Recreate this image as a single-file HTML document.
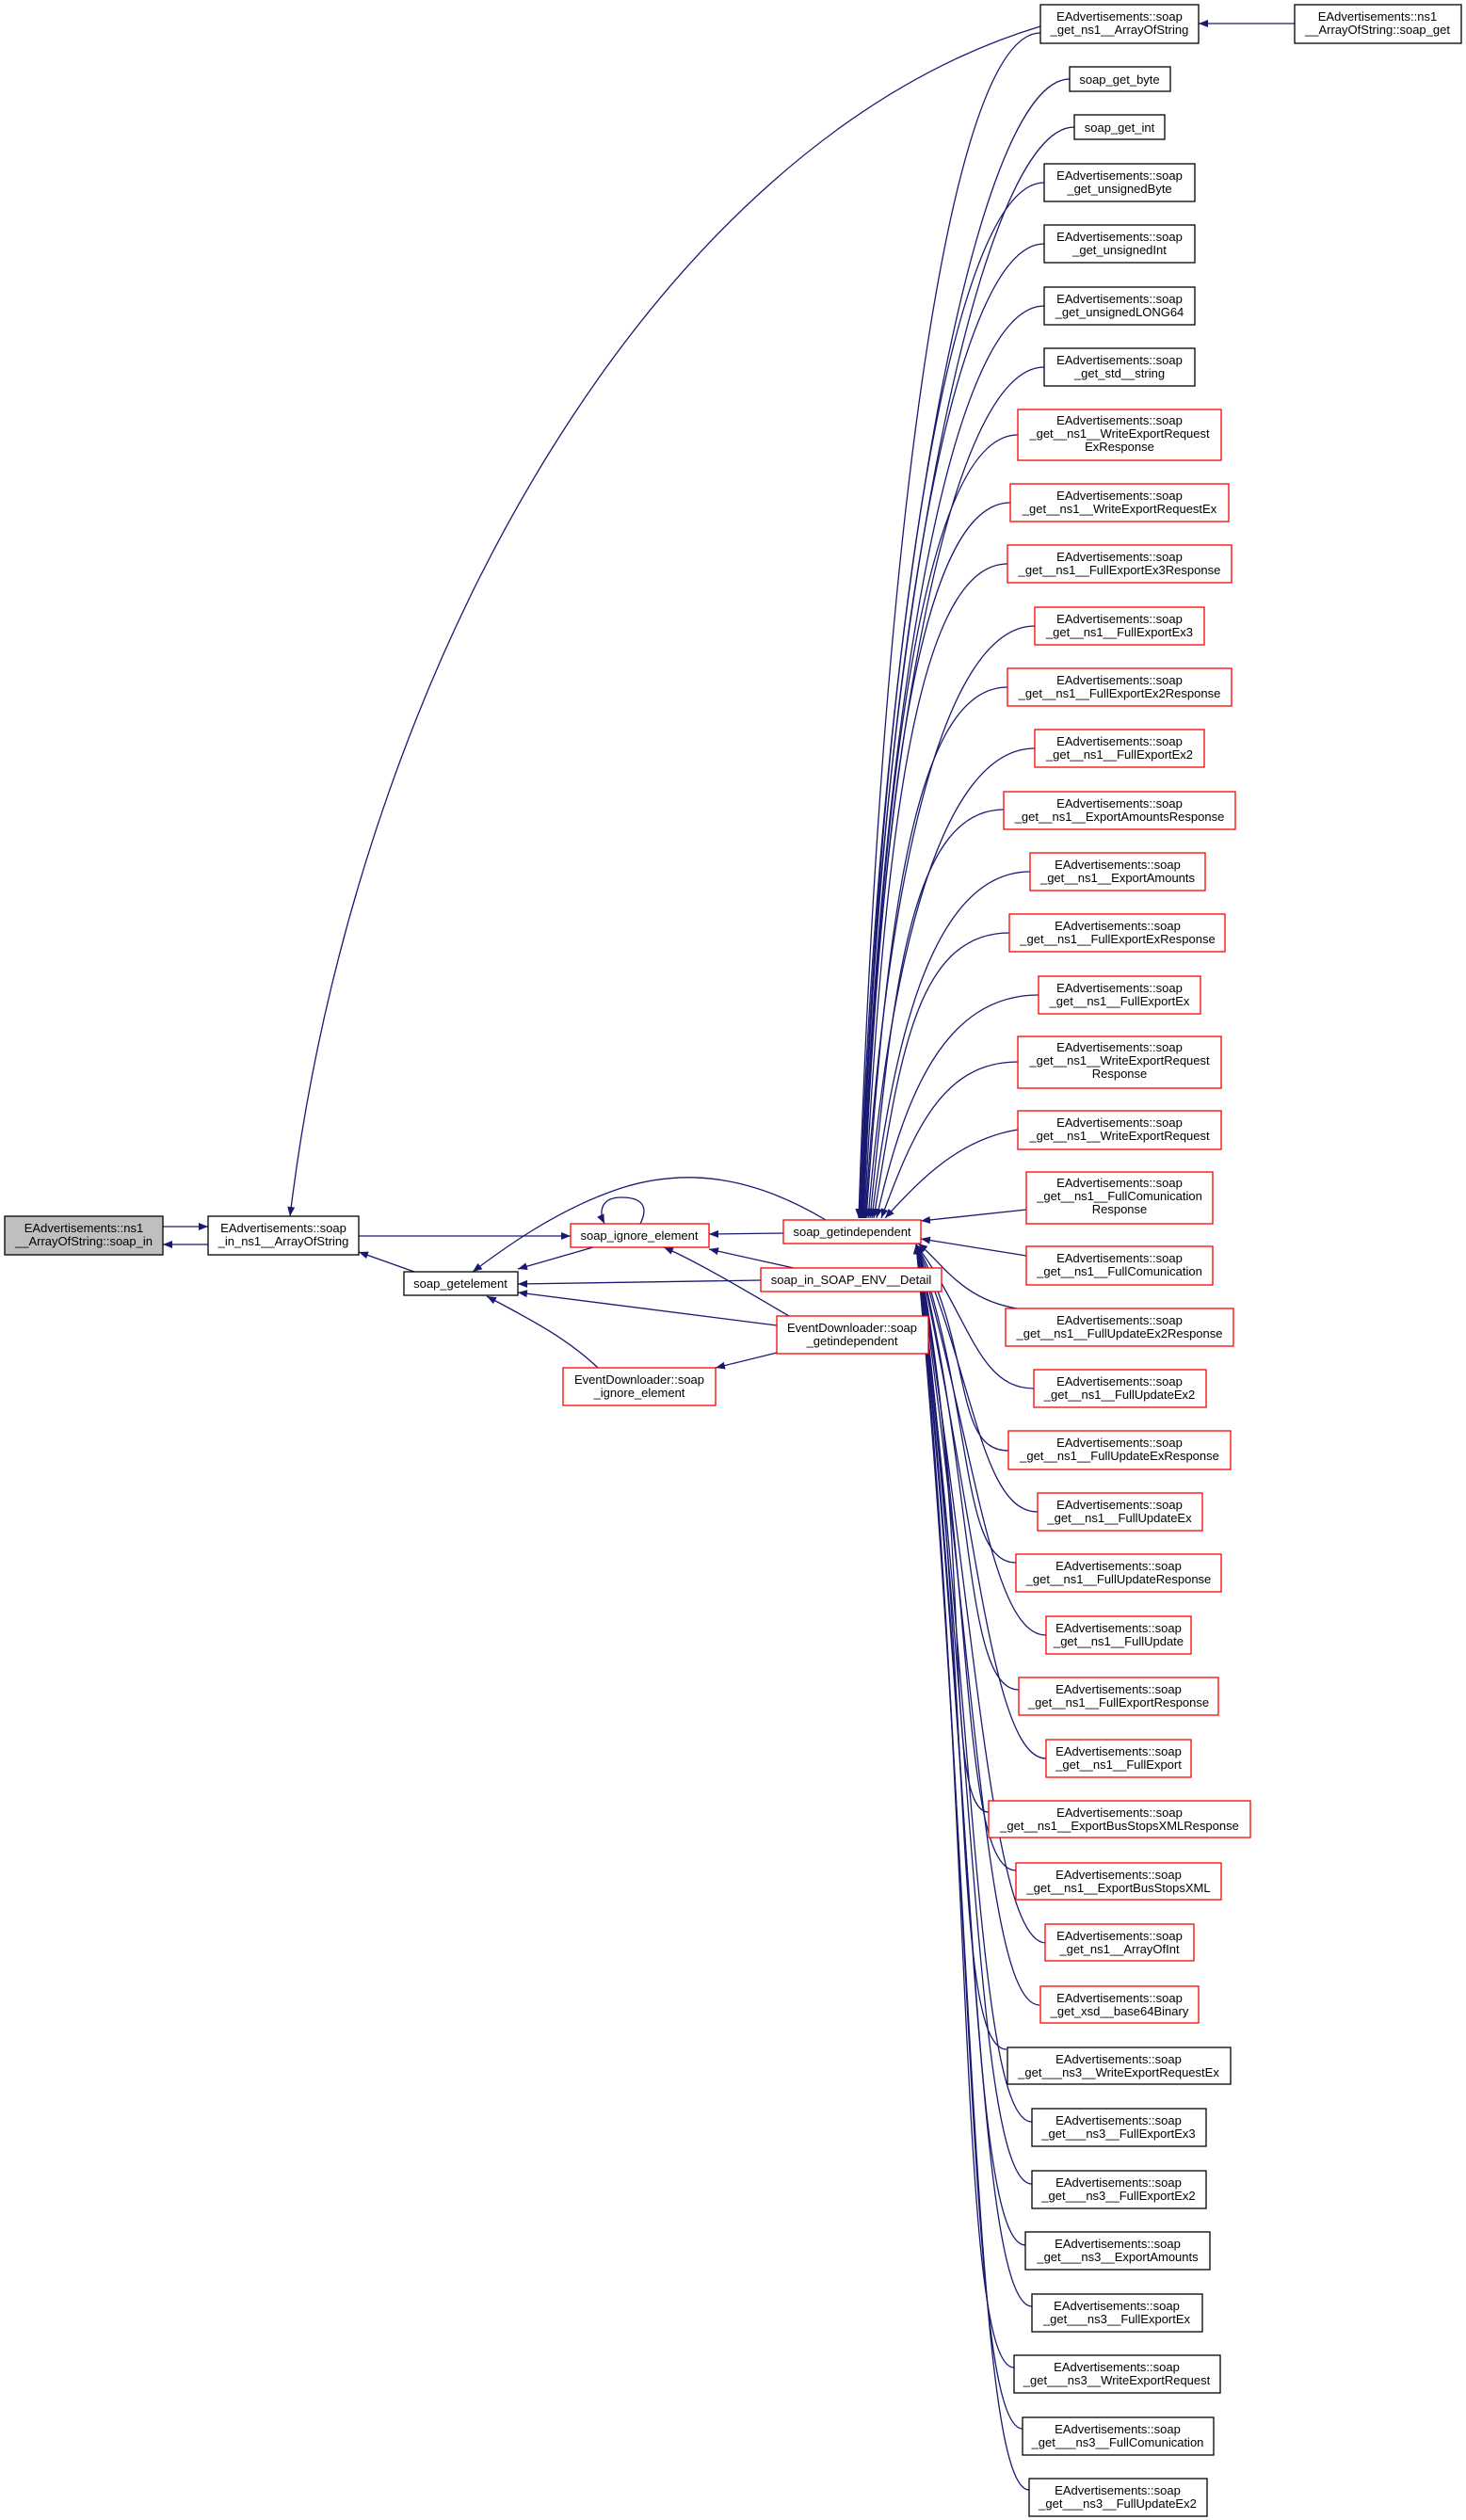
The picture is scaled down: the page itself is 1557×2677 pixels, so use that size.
<!DOCTYPE html>
<html><head><meta charset="utf-8"><style>
html,body{margin:0;padding:0;background:#fff}
svg{display:block}
text{font-family:"Liberation Sans",sans-serif;font-size:13px;fill:#000}
.e{fill:none;stroke:#191970;stroke-width:1.3}
.b{fill:#fff;stroke:#000;stroke-width:1.3}
.r{fill:#fff;stroke:#ff0000;stroke-width:1.3}
</style></head><body>
<svg width="1557" height="2677" viewBox="0 0 1557 2677" xmlns="http://www.w3.org/2000/svg">
<defs><marker id="a" viewBox="0 0 10 8" refX="10" refY="4" markerWidth="10" markerHeight="8" markerUnits="userSpaceOnUse" orient="auto"><path d="M0,0 L10,4 L0,8 z" fill="#191970"/></marker></defs>
<g class="e" marker-end="url(#a)">
<!-- upper fan -->
<path d="M1105,35 C1005,35 935,596 912,1294"/>
<path d="M1136,84 C1036,84 935,628 913,1294"/>
<path d="M1141,135 C1041,135 935,657 914,1294"/>
<path d="M1109,194 C1009,194 935,689 915,1294"/>
<path d="M1109,259 C1009,259 935,725 915,1294"/>
<path d="M1109,325 C1009,325 935,761 916,1294"/>
<path d="M1109,390 C1009,390 935,797 916,1294"/>
<path d="M1081,462 C981,462 935,836 917,1294"/>
<path d="M1073,534 C973,534 935,876 917,1294"/>
<path d="M1070,599 C970,599 938,912 918,1294"/>
<path d="M1099,665 C999,665 940,948 919,1294"/>
<path d="M1070,730 C970,730 942,984 920,1294"/>
<path d="M1099,795 C999,795 945,1020 922,1294"/>
<path d="M1066,860 C966,860 948,1055 924,1294"/>
<path d="M1094,926 C994,926 950,1092 926,1294"/>
<path d="M1072,991 C972,991 955,1127 928,1294"/>
<path d="M1103,1057 C1003,1057 960,1164 931,1294"/>
<path d="M1081,1128 C1000,1128 970,1203 936,1294"/>
<path d="M1081,1200 C1020,1210 980,1250 940,1294"/>
<path d="M1090,1285 L978,1297"/>
<path d="M1090,1334 L978,1316"/>
<path d="M1080,1390 C1020,1380 1000,1340 975,1321"/>
<!-- lower fan -->
<path d="M1098,1475 C1038,1475 1030,1398 973,1322"/>
<path d="M1071,1541 C1011,1541 1035,1431 973,1322"/>
<path d="M1102,1606 C1042,1606 1035,1463 973,1322"/>
<path d="M1079,1660 C1019,1660 1035,1496 973,1322"/>
<path d="M1111,1737 C1051,1737 1035,1529 973,1322"/>
<path d="M1082,1795 C1022,1795 1035,1561 973,1322"/>
<path d="M1111,1868 C1051,1868 1035,1594 973,1322"/>
<path d="M1050,1925 C1000,1925 1035,1627 973,1322"/>
<path d="M1079,1987 C1019,1987 1035,1660 973,1322"/>
<path d="M1111,2064 C1051,2064 1035,1692 973,1322"/>
<path d="M1104,2130 C1044,2130 1035,1725 973,1322"/>
<path d="M1069,2177 C1009,2177 1035,1758 973,1322"/>
<path d="M1096,2254 C1036,2254 1035,1790 973,1322"/>
<path d="M1096,2320 C1036,2320 1035,1823 973,1322"/>
<path d="M1089,2385 C1029,2385 1035,1856 973,1322"/>
<path d="M1096,2450 C1036,2450 1035,1889 973,1322"/>
<path d="M1077,2515 C1017,2515 1035,1921 973,1322"/>
<path d="M1086,2580 C1026,2580 1035,1954 973,1322"/>
<path d="M1093,2645 C1033,2645 1035,1987 973,1322"/>
<!-- top edges -->
<path d="M1375,25 L1273,25"/>
<path d="M1105,28 C700,150 380,700 308,1292"/>
<!-- left cluster -->
<path d="M173,1303 L221,1303"/>
<path d="M221,1322 L173,1322"/>
<path d="M440,1351 L381,1330"/>
<path d="M381,1313 L606,1313"/>
<path d="M630,1325 L550,1348"/>
<path d="M680,1300 C690,1280 680,1272 660,1272 C640,1272 635,1285 642,1300"/>
<path d="M832,1310 L753,1311"/>
<path d="M877,1296 C800,1250 730,1240 660,1262 C590,1285 530,1330 502,1351"/>
<path d="M843,1347 L753,1327"/>
<path d="M808,1360 L550,1364"/>
<path d="M825,1408 L550,1373"/>
<path d="M838,1398 C790,1370 740,1340 705,1325"/>
<path d="M825,1437 L760,1453"/>
<path d="M635,1453 C600,1420 560,1400 517,1377"/>
</g>
<!-- left nodes -->
<rect x="5" y="1292" width="168" height="41" fill="#bfbfbf" stroke="#000" stroke-width="1.3"/>
<text x="89" y="1309" text-anchor="middle">EAdvertisements::ns1</text><text x="89" y="1323" text-anchor="middle">__ArrayOfString::soap_in</text>
<rect class="b" x="221" y="1292" width="160" height="41"/>
<text x="301" y="1309" text-anchor="middle">EAdvertisements::soap</text><text x="301" y="1323" text-anchor="middle">_in_ns1__ArrayOfString</text>
<rect class="b" x="429" y="1351" width="121" height="25"/>
<text x="489" y="1368" text-anchor="middle">soap_getelement</text>
<rect class="r" x="606" y="1300" width="147" height="25"/>
<text x="679" y="1317" text-anchor="middle">soap_ignore_element</text>
<rect class="r" x="832" y="1296" width="146" height="25"/>
<text x="905" y="1313" text-anchor="middle">soap_getindependent</text>
<rect class="r" x="808" y="1347" width="192" height="25"/>
<text x="904" y="1364" text-anchor="middle">soap_in_SOAP_ENV__Detail</text>
<rect class="r" x="825" y="1398" width="161" height="40"/>
<text x="905" y="1415" text-anchor="middle">EventDownloader::soap</text><text x="905" y="1429" text-anchor="middle">_getindependent</text>
<rect class="r" x="598" y="1453" width="162" height="40"/>
<text x="679" y="1470" text-anchor="middle">EventDownloader::soap</text><text x="679" y="1484" text-anchor="middle">_ignore_element</text>
<!-- top right -->
<rect class="b" x="1375" y="5" width="177" height="41"/>
<text x="1463" y="22" text-anchor="middle">EAdvertisements::ns1</text><text x="1463" y="36" text-anchor="middle">__ArrayOfString::soap_get</text>
<rect class="b" x="1105" y="5" width="168" height="41"/>
<text x="1189" y="22" text-anchor="middle">EAdvertisements::soap</text><text x="1189" y="36" text-anchor="middle">_get_ns1__ArrayOfString</text>
<rect class="b" x="1136" y="71" width="107" height="26"/><text x="1189" y="89" text-anchor="middle">soap_get_byte</text>
<rect class="b" x="1141" y="122" width="96" height="26"/><text x="1189" y="140" text-anchor="middle">soap_get_int</text>
<g text-anchor="middle">
<rect class="b" x="1109" y="174" width="160" height="40"/><text x="1189" y="191">EAdvertisements::soap</text><text x="1189" y="205">_get_unsignedByte</text>
<rect class="b" x="1109" y="239" width="160" height="40"/><text x="1189" y="256">EAdvertisements::soap</text><text x="1189" y="270">_get_unsignedInt</text>
<rect class="b" x="1109" y="305" width="160" height="40"/><text x="1189" y="322">EAdvertisements::soap</text><text x="1189" y="336">_get_unsignedLONG64</text>
<rect class="b" x="1109" y="370" width="160" height="40"/><text x="1189" y="387">EAdvertisements::soap</text><text x="1189" y="401">_get_std__string</text>
<rect class="r" x="1081" y="435" width="216" height="54"/><text x="1189" y="451">EAdvertisements::soap</text><text x="1189" y="465">_get__ns1__WriteExportRequest</text><text x="1189" y="479">ExResponse</text>
<rect class="r" x="1073" y="514" width="232" height="40"/><text x="1189" y="531">EAdvertisements::soap</text><text x="1189" y="545">_get__ns1__WriteExportRequestEx</text>
<rect class="r" x="1070" y="579" width="238" height="40"/><text x="1189" y="596">EAdvertisements::soap</text><text x="1189" y="610">_get__ns1__FullExportEx3Response</text>
<rect class="r" x="1099" y="645" width="180" height="40"/><text x="1189" y="662">EAdvertisements::soap</text><text x="1189" y="676">_get__ns1__FullExportEx3</text>
<rect class="r" x="1070" y="710" width="238" height="40"/><text x="1189" y="727">EAdvertisements::soap</text><text x="1189" y="741">_get__ns1__FullExportEx2Response</text>
<rect class="r" x="1099" y="775" width="180" height="40"/><text x="1189" y="792">EAdvertisements::soap</text><text x="1189" y="806">_get__ns1__FullExportEx2</text>
<rect class="r" x="1066" y="841" width="246" height="40"/><text x="1189" y="858">EAdvertisements::soap</text><text x="1189" y="872">_get__ns1__ExportAmountsResponse</text>
<rect class="r" x="1094" y="906" width="186" height="40"/><text x="1187" y="923">EAdvertisements::soap</text><text x="1187" y="937">_get__ns1__ExportAmounts</text>
<rect class="r" x="1072" y="971" width="229" height="40"/><text x="1187" y="988">EAdvertisements::soap</text><text x="1187" y="1002">_get__ns1__FullExportExResponse</text>
<rect class="r" x="1103" y="1037" width="172" height="40"/><text x="1189" y="1054">EAdvertisements::soap</text><text x="1189" y="1068">_get__ns1__FullExportEx</text>
<rect class="r" x="1081" y="1101" width="216" height="55"/><text x="1189" y="1117">EAdvertisements::soap</text><text x="1189" y="1131">_get__ns1__WriteExportRequest</text><text x="1189" y="1145">Response</text>
<rect class="r" x="1081" y="1180" width="216" height="41"/><text x="1189" y="1197">EAdvertisements::soap</text><text x="1189" y="1211">_get__ns1__WriteExportRequest</text>
<rect class="r" x="1090" y="1245" width="198" height="55"/><text x="1189" y="1261">EAdvertisements::soap</text><text x="1189" y="1275">_get__ns1__FullComunication</text><text x="1189" y="1289">Response</text>
<rect class="r" x="1090" y="1324" width="198" height="41"/><text x="1189" y="1341">EAdvertisements::soap</text><text x="1189" y="1355">_get__ns1__FullComunication</text>
<rect class="r" x="1068" y="1390" width="242" height="40"/><text x="1189" y="1407">EAdvertisements::soap</text><text x="1189" y="1421">_get__ns1__FullUpdateEx2Response</text>
<rect class="r" x="1098" y="1455" width="183" height="40"/><text x="1189" y="1472">EAdvertisements::soap</text><text x="1189" y="1486">_get__ns1__FullUpdateEx2</text>
<rect class="r" x="1071" y="1520" width="236" height="41"/><text x="1189" y="1537">EAdvertisements::soap</text><text x="1189" y="1551">_get__ns1__FullUpdateExResponse</text>
<rect class="r" x="1102" y="1586" width="175" height="40"/><text x="1189" y="1603">EAdvertisements::soap</text><text x="1189" y="1617">_get__ns1__FullUpdateEx</text>
<rect class="r" x="1079" y="1651" width="218" height="40"/><text x="1188" y="1668">EAdvertisements::soap</text><text x="1188" y="1682">_get__ns1__FullUpdateResponse</text>
<rect class="r" x="1111" y="1717" width="154" height="40"/><text x="1188" y="1734">EAdvertisements::soap</text><text x="1188" y="1748">_get__ns1__FullUpdate</text>
<rect class="r" x="1082" y="1782" width="212" height="40"/><text x="1188" y="1799">EAdvertisements::soap</text><text x="1188" y="1813">_get__ns1__FullExportResponse</text>
<rect class="r" x="1111" y="1848" width="154" height="40"/><text x="1188" y="1865">EAdvertisements::soap</text><text x="1188" y="1879">_get__ns1__FullExport</text>
<rect class="r" x="1050" y="1913" width="278" height="39"/><text x="1189" y="1930">EAdvertisements::soap</text><text x="1189" y="1944">_get__ns1__ExportBusStopsXMLResponse</text>
<rect class="r" x="1079" y="1979" width="218" height="39"/><text x="1188" y="1996">EAdvertisements::soap</text><text x="1188" y="2010">_get__ns1__ExportBusStopsXML</text>
<rect class="r" x="1110" y="2044" width="158" height="39"/><text x="1189" y="2061">EAdvertisements::soap</text><text x="1189" y="2075">_get_ns1__ArrayOfInt</text>
<rect class="r" x="1105" y="2110" width="168" height="39"/><text x="1189" y="2127">EAdvertisements::soap</text><text x="1189" y="2141">_get_xsd__base64Binary</text>
<rect class="b" x="1070" y="2175" width="237" height="39"/><text x="1188" y="2192">EAdvertisements::soap</text><text x="1188" y="2206">_get___ns3__WriteExportRequestEx</text>
<rect class="b" x="1096" y="2240" width="185" height="40"/><text x="1188" y="2257">EAdvertisements::soap</text><text x="1188" y="2271">_get___ns3__FullExportEx3</text>
<rect class="b" x="1096" y="2306" width="185" height="40"/><text x="1188" y="2323">EAdvertisements::soap</text><text x="1188" y="2337">_get___ns3__FullExportEx2</text>
<rect class="b" x="1089" y="2371" width="196" height="40"/><text x="1187" y="2388">EAdvertisements::soap</text><text x="1187" y="2402">_get___ns3__ExportAmounts</text>
<rect class="b" x="1096" y="2437" width="181" height="40"/><text x="1186" y="2454">EAdvertisements::soap</text><text x="1186" y="2468">_get___ns3__FullExportEx</text>
<rect class="b" x="1077" y="2502" width="219" height="40"/><text x="1186" y="2519">EAdvertisements::soap</text><text x="1186" y="2533">_get___ns3__WriteExportRequest</text>
<rect class="b" x="1086" y="2568" width="203" height="40"/><text x="1187" y="2585">EAdvertisements::soap</text><text x="1187" y="2599">_get___ns3__FullComunication</text>
<rect class="b" x="1093" y="2633" width="189" height="40"/><text x="1187" y="2650">EAdvertisements::soap</text><text x="1187" y="2664">_get___ns3__FullUpdateEx2</text>
</g>
</svg>
</body></html>
